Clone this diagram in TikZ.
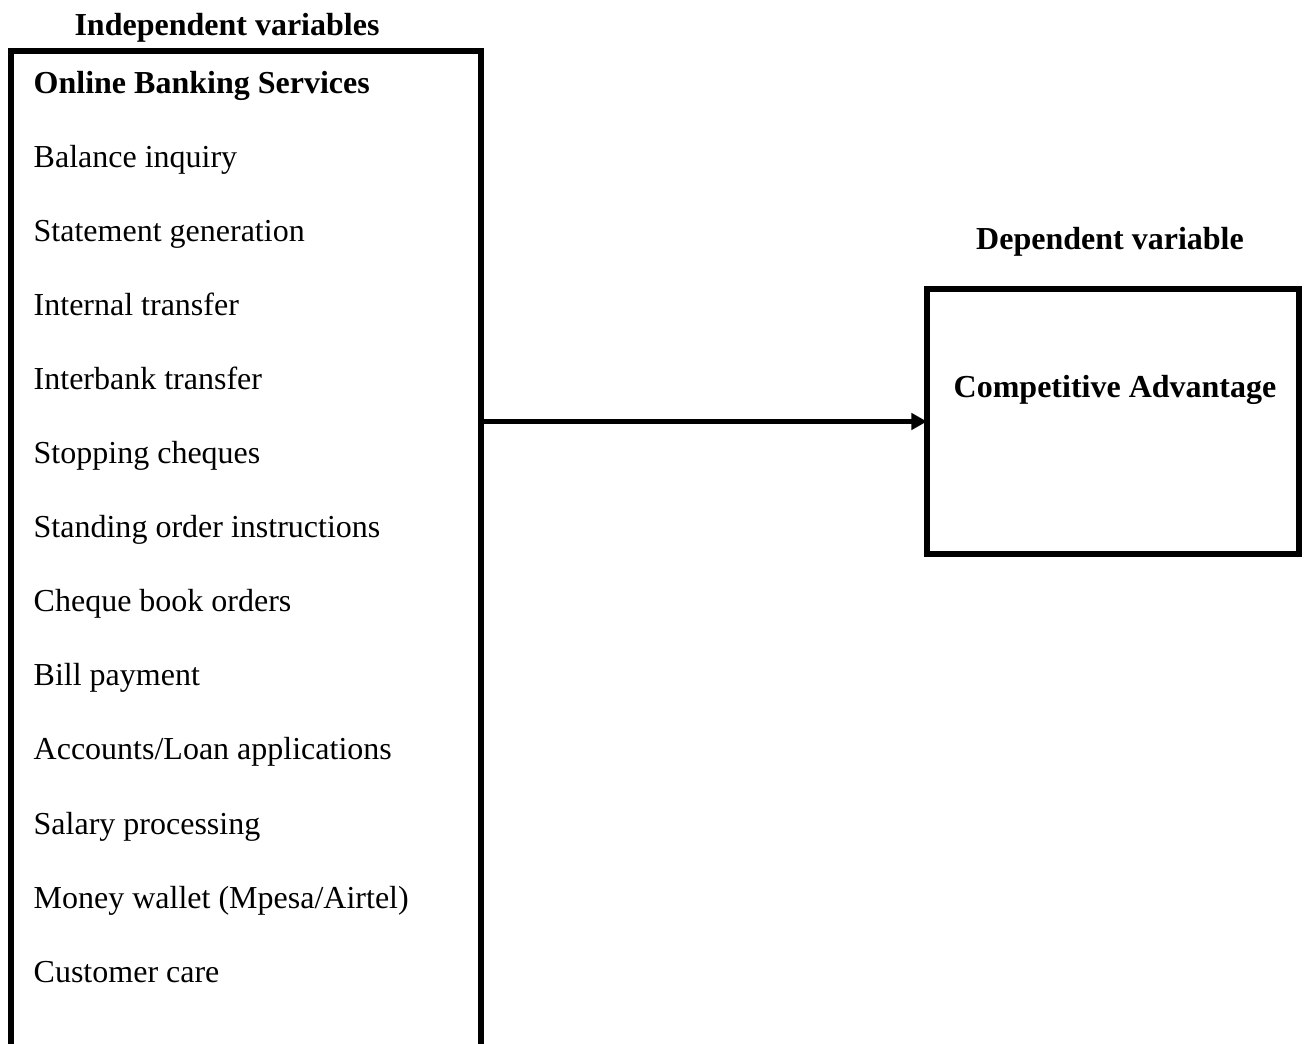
\documentclass[tikz,border=0pt]{standalone}
\usepackage{fontspec}
\setmainfont{Liberation Serif}
\usepackage{tikz}
\usetikzlibrary{arrows.meta}

\tikzset{
	varbox/.style={draw, line width=1.7pt, inner sep=0pt, outer sep=0pt},
	item/.style={anchor=west, inner sep=0pt, text height=0.68em, text depth=0.22em, font=\fontsize{9.1}{11}\selectfont},
	heading/.style={inner sep=0pt, text height=0.68em, text depth=0.22em, font=\fontsize{9.1}{11}\selectfont\bfseries},
	link/.style={line width=1.4pt, -{Triangle[length=4.4pt, width=4.6pt]}}
}

\begin{document}
\begin{tikzpicture}[x=0.01cm, y=-0.01cm]
		\useasboundingbox (0,0) rectangle (1304,1043);
		\clip (0,0) rectangle (1304,1043);
		
		% left box, runs off the page at the bottom
		\node[varbox, anchor=north west, minimum width=4.7cm, minimum height=10.6cm] (ind) at (11,51) {};
		\node[heading] (indtitle) at (227,27) {Independent variables};
		\node[heading, anchor=west] (obs) at (33,85) {Online Banking Services};
		
		\foreach \name [count=\i] in {Balance inquiry, Statement generation, Internal transfer,
			Interbank transfer, Stopping cheques, Standing order instructions, Cheque book orders,
			Bill payment, Accounts/Loan applications, Salary processing,
			Money wallet (Mpesa/Airtel), Customer care}
			\node[item] (s\i) at (33,{85+74.1*\i}) {\name};
		
		% right box
		\node[varbox, minimum width=3.72cm, minimum height=2.65cm] (dep) at (1113,421.5) {};
		\node[heading] (deptitle) at (1110,241) {Dependent variable};
		\node[heading] (cmp) at (1115,389) {Competitive Advantage};
		
		\draw[link] (ind.east |- dep.west) -- (dep.west);
		
		\end{tikzpicture}
\end{document}
